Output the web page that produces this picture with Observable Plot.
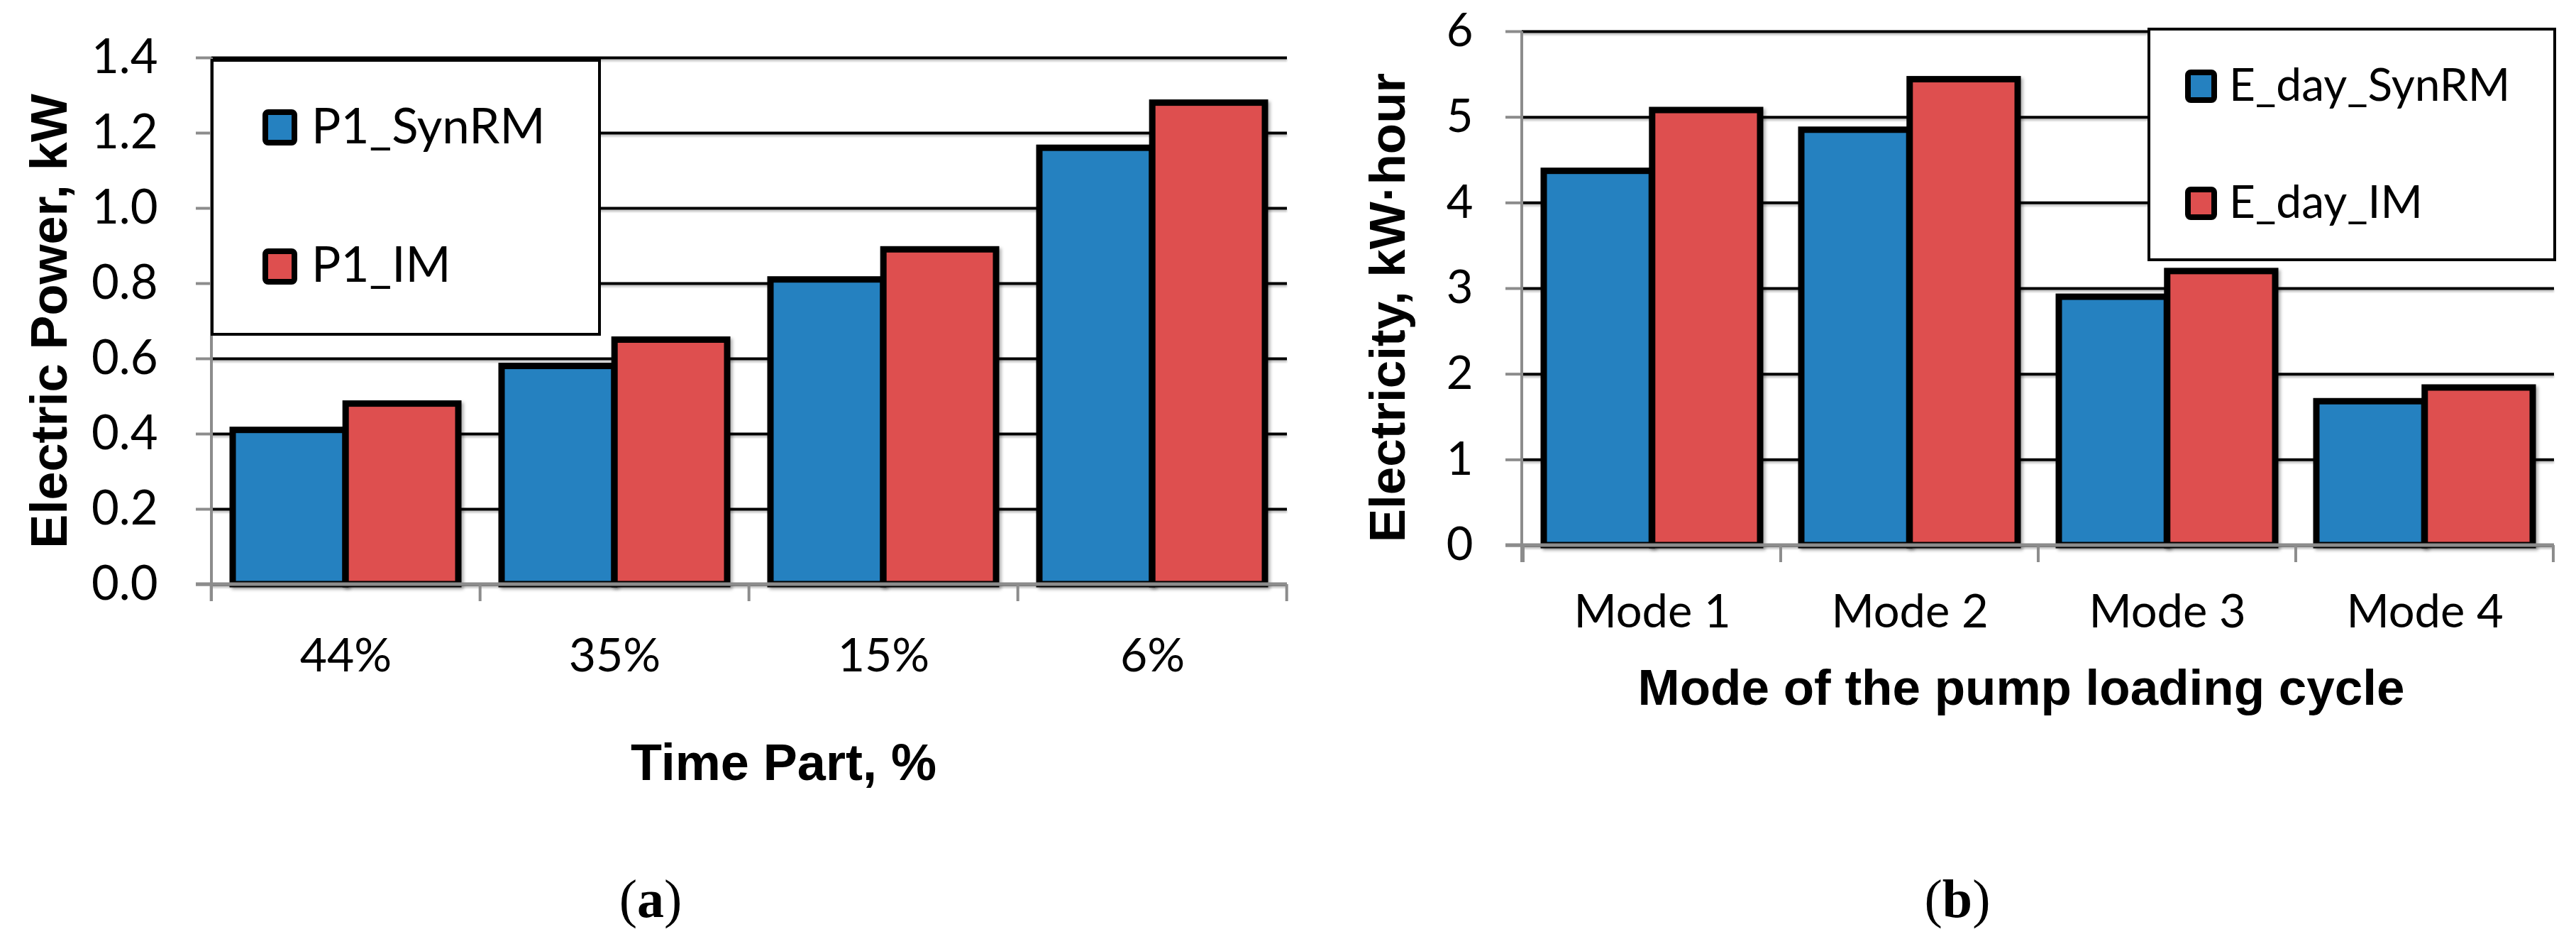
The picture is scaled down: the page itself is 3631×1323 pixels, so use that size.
<!DOCTYPE html>
<html>
<head>
<meta charset="utf-8">
<script src="https://cdn.jsdelivr.net/npm/d3@7"></script>
<script src="https://cdn.jsdelivr.net/npm/@observablehq/plot@0.6"></script>
<style>
  html, body { margin: 0; padding: 0; background: #fff; }
  #page { position: relative; width: 3631px; height: 1323px; overflow: hidden; background: #fff; }
  .panel { position: absolute; top: 0; }
  .panel svg { display: block; }
  .panel g[aria-label="bar"] { filter: drop-shadow(3px 3px 2px rgba(0,0,0,0.30)); }
  .panel g[aria-label="y-grid"] { filter: drop-shadow(0px 3px 1px rgba(0,0,0,0.22)); }
  #overlay { position: absolute; left: 0; top: 0; pointer-events: none; }
</style>
</head>
<body>
<div id="page">
  <div id="panelA" class="panel" style="left:0px"></div>
  <div id="panelB" class="panel" style="left:1840px"></div>
</div>
<script>
// ---------- data ----------
const timeParts = ["44%", "35%", "15%", "6%"];
const p1SynRM = [0.41, 0.58, 0.81, 1.16];
const p1IM = [0.48, 0.65, 0.89, 1.28];
const seriesA = ["P1_SynRM", "P1_IM"];
const yTicksA = [0, 0.2, 0.4, 0.6, 0.8, 1.0, 1.2, 1.4];

const modes = ["Mode 1", "Mode 2", "Mode 3", "Mode 4"];
const eDaySynRM = [4.37, 4.85, 2.90, 1.68];
const eDayIM = [5.08, 5.44, 3.20, 1.84];
const seriesB = ["E_day_SynRM", "E_day_IM"];
const yTicksB = [0, 1, 2, 3, 4, 5, 6];

const colors = ["#2581c0", "#de4f4f"];
const axisGrey = "#8c8c8c";
const H = 1323;

function panel(cfg) {
  const pi = 0.16, po = 0.08;
  const cats = cfg.cats;
  const inner = cfg.width - cfg.ml - cfg.mr;
  const step = inner / (cats.length - pi + 2 * po);
  const bw = step * (1 - pi);
  const rows = cats.flatMap((c, i) => [
    {cat: c, series: cfg.names[0], value: cfg.s1[i]},
    {cat: c, series: cfg.names[1], value: cfg.s2[i]}
  ]);
  const decor = (index, scales, values, dims) => {
    const x = scales.x, y = scales.y;
    const g = d3.create("svg:g").attr("aria-label", "axis-lines");
    const L = dims.marginLeft, R = dims.width - dims.marginRight, T = dims.marginTop;
    const y0 = y(0);
    const st = x(cats[1]) - x(cats[0]);
    const off = st * pi / 2;
    const bounds = cats.map(c => x(c) - off).concat([x(cats[cats.length - 1]) - off + st]);
    g.append("line").attr("x1", L).attr("x2", L).attr("y1", T).attr("y2", y0 + cfg.xTickLen)
      .attr("stroke", axisGrey).attr("stroke-width", 4);
    g.append("line").attr("x1", L - cfg.yTickLen).attr("x2", R).attr("y1", y0).attr("y2", y0)
      .attr("stroke", axisGrey).attr("stroke-width", 5);
    for (const b of bounds) {
      g.append("line").attr("x1", b).attr("x2", b).attr("y1", y0).attr("y2", y0 + cfg.xTickLen)
        .attr("stroke", axisGrey).attr("stroke-width", 4);
    }
    return g.node();
  };
  return Plot.plot({
    width: cfg.width,
    height: H,
    marginLeft: cfg.ml,
    marginRight: cfg.mr,
    marginTop: cfg.mt,
    marginBottom: cfg.mb,
    style: {fontFamily: "Lato, 'Open Sans', sans-serif", background: "transparent", overflow: "visible"},
    x: {type: "band", domain: cats, paddingInner: pi, paddingOuter: po, axis: null, label: null},
    y: {domain: cfg.yDomain, axis: null, label: null},
    color: {domain: cfg.names, range: colors},
    marks: [
      Plot.gridY(cfg.yTicks, {stroke: "#000", strokeOpacity: 1, strokeWidth: 4}),
      Plot.barY(rows.filter(d => d.series === cfg.names[0]), {
        x: "cat", y: "value", fill: "series", stroke: "#000", strokeWidth: 9, insetRight: bw / 2
      }),
      Plot.barY(rows.filter(d => d.series === cfg.names[1]), {
        x: "cat", y: "value", fill: "series", stroke: "#000", strokeWidth: 9, insetLeft: bw / 2
      }),
      decor,
      Plot.axisY(cfg.yTicks, {
        tickSize: cfg.yTickLen, tickPadding: cfg.yTickPad, stroke: axisGrey, strokeWidth: 4,
        fill: "#000", tickFormat: cfg.fmt, fontSize: cfg.yFont, label: null
      }),
      Plot.axisX({tickSize: 0, tickPadding: cfg.xPad, fill: "#000", fontSize: cfg.xFont, label: null}),
      Plot.text([cfg.yTitle], {
        text: d => d, frameAnchor: "left", rotate: -90, dx: cfg.yTitleDx, dy: cfg.yTitleDy,
        textAnchor: "middle", lineAnchor: "middle",
        fontSize: cfg.titleFont, fontWeight: "bold", fontFamily: "'Liberation Sans', Arial, sans-serif", fill: "#000"
      }),
      Plot.text([cfg.xTitle], {
        text: d => d, frameAnchor: "bottom", dx: cfg.xTitleDx, dy: cfg.xTitleDy,
        textAnchor: "middle", lineAnchor: "middle",
        fontSize: cfg.titleFont, fontWeight: "bold", fontFamily: "'Liberation Sans', Arial, sans-serif", fill: "#000"
      })
    ]
  });
}

const A = panel({
  cats: timeParts, s1: p1SynRM, s2: p1IM, names: seriesA,
  yDomain: [0, 1.4], yTicks: yTicksA, fmt: d3.format(".1f"),
  width: 1840, ml: 298, mr: 26, mt: 81, mb: H - 823,
  yTickLen: 22, yTickPad: 54, xTickLen: 24, xPad: 76, yFont: 67, xFont: 66,
  yTitle: "Electric Power, kW", xTitle: "Time Part, %", titleFont: 72,
  yTitleDx: -228, yTitleDy: 0, xTitleDx: 48, xTitleDy: 252
});
document.getElementById("panelA").appendChild(A);

const B = panel({
  cats: modes, s1: eDaySynRM, s2: eDayIM, names: seriesB,
  yDomain: [0, 6], yTicks: yTicksB, fmt: d3.format("d"),
  width: 1791, ml: 305, mr: 31, mt: 44, mb: H - 768,
  yTickLen: 23, yTickPad: 46, xTickLen: 24, xPad: 69, yFont: 65, xFont: 65,
  yTitle: "Electricity, kW·hour", xTitle: "Mode of the pump loading cycle", titleFont: 71,
  yTitleDx: -188, yTitleDy: 27, xTitleDx: -24, xTitleDy: 202
});
document.getElementById("panelB").appendChild(B);

// ---------- legends & captions overlay ----------
const ov = d3.select("#page").append("svg").attr("id", "overlay")
  .attr("width", 3631).attr("height", H);

function legend(box, items, font) {
  ov.append("rect").attr("x", box.x + 2).attr("y", box.y + 2)
    .attr("width", box.w - 4).attr("height", box.h - 4)
    .attr("fill", "#fff").attr("stroke", "#000").attr("stroke-width", 4);
  items.forEach((it, i) => {
    ov.append("rect").attr("x", it.sx + 4).attr("y", it.sy + 4)
      .attr("width", it.sw - 8).attr("height", it.sh - 8).attr("rx", 4)
      .attr("fill", colors[i]).attr("stroke", "#000").attr("stroke-width", 8);
    ov.append("text").attr("x", it.tx).attr("y", it.ty)
      .attr("font-family", "Lato, 'Open Sans', sans-serif").attr("font-size", font)
      .attr("fill", "#000").text(it.label);
  });
}
legend({x: 297, y: 83, w: 550, h: 390}, [
  {sx: 370, sy: 154, sw: 49, sh: 51, tx: 439, ty: 202, label: seriesA[0]},
  {sx: 370, sy: 350, sw: 49, sh: 51, tx: 439, ty: 397, label: seriesA[1]}
], 69);
legend({x: 3027, y: 39, w: 576, h: 329}, [
  {sx: 3080, sy: 98, sw: 45, sh: 47, tx: 3142, ty: 142, label: seriesB[0]},
  {sx: 3080, sy: 263, sw: 45, sh: 47, tx: 3142, ty: 307, label: seriesB[1]}
], 64);

function caption(cx, letter) {
  const t = ov.append("text").attr("x", cx).attr("y", 1292).attr("text-anchor", "middle")
    .attr("font-family", "'Liberation Serif', 'DejaVu Serif', serif").attr("font-size", 76).attr("fill", "#000");
  t.append("tspan").text("(");
  t.append("tspan").attr("font-weight", "bold").text(letter);
  t.append("tspan").text(")");
}
caption(917, "a");
caption(2759, "b");
</script>
</body>
</html>
